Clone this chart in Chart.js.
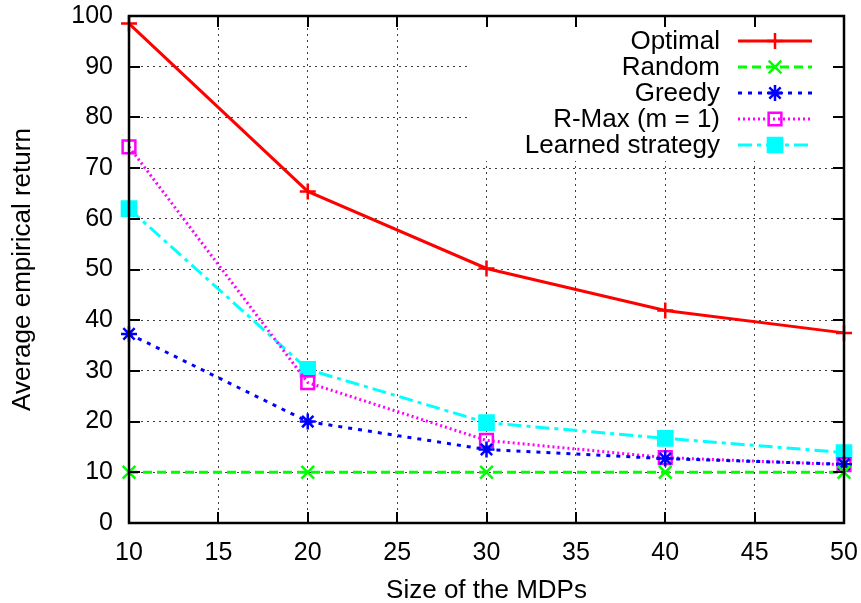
<!DOCTYPE html>
<html>
<head>
<meta charset="utf-8">
<script src="https://cdn.jsdelivr.net/npm/chart.js@4/dist/chart.umd.min.js"></script>
<style>
  html, body { margin: 0; padding: 0; background: #fff; }
  #wrap { width: 861px; height: 603px; }
</style>
</head>
<body>
<div id="wrap"><canvas id="chart" width="861" height="603"></canvas></div>
<script>
const sizes = [10, 20, 30, 40, 50];
const optimal = [98.5, 65.4, 50.2, 41.9, 37.5];
const random = [10.0, 10.0, 10.0, 10.0, 10.0];
const greedy = [37.3, 20.0, 14.5, 12.7, 11.6];
const rmax = [74.2, 27.7, 16.3, 12.9, 11.5];
const learned = [62.0, 30.3, 19.8, 16.7, 13.9];

const FONT = 'Liberation Sans, Arial, Helvetica, sans-serif';
const FSIZE = 25;
const TSIZE = 26;

function pts(vals) {
    return sizes.map((s, i) => ({ x: s, y: vals[i] }));
}

function series(label, vals, color, dash, style, radius, fill) {
    return {
        label: label,
        data: pts(vals),
        borderColor: color,
        backgroundColor: fill,
        borderWidth: 3,
        borderDash: dash,
        pointStyle: style,
        pointRadius: radius,
        pointBorderWidth: 2.5,
        pointBorderColor: color,
        pointBackgroundColor: fill,
        tension: 0,
        clip: false
    };
}

const datasets = [
    series('Optimal', optimal, '#ff0000', [], 'cross', 8, '#ff0000'),
    series('Random', random, '#00ff00', [9, 5], 'crossRot', 9, '#00ff00'),
    series('Greedy', greedy, '#0000ff', [4, 6], 'star', 8, '#0000ff'),
    series('R-Max (m = 1)', rmax, '#ff00ff', [2, 3], 'rect', 9, 'rgba(255,255,255,0)'),
    series('Learned strategy', learned, '#00ffff', [14, 5, 4, 5], 'rect', 10, '#00ffff')
];

// white box behind the key, hides the grid there
const LEGEND_BOX = { left: 470, bottom: 160 };

function marker(ctx, ds, x, y) {
    const r = ds.pointRadius;
    ctx.save();
    ctx.setLineDash([]);
    ctx.lineWidth = ds.pointBorderWidth;
    ctx.strokeStyle = ds.pointBorderColor;
    ctx.fillStyle = ds.pointBackgroundColor;
    ctx.beginPath();
    if (ds.pointStyle === 'cross') {
        ctx.moveTo(x - r, y); ctx.lineTo(x + r, y);
        ctx.moveTo(x, y - r); ctx.lineTo(x, y + r);
        ctx.stroke();
    } else if (ds.pointStyle === 'crossRot') {
        const o = r * Math.SQRT1_2;
        ctx.moveTo(x - o, y - o); ctx.lineTo(x + o, y + o);
        ctx.moveTo(x - o, y + o); ctx.lineTo(x + o, y - o);
        ctx.stroke();
    } else if (ds.pointStyle === 'star') {
        const o = r * Math.SQRT1_2;
        ctx.moveTo(x - r, y); ctx.lineTo(x + r, y);
        ctx.moveTo(x, y - r); ctx.lineTo(x, y + r);
        ctx.moveTo(x - o, y - o); ctx.lineTo(x + o, y + o);
        ctx.moveTo(x - o, y + o); ctx.lineTo(x + o, y - o);
        ctx.stroke();
    } else {
        const s = r * Math.SQRT1_2;
        ctx.rect(x - s, y - s, 2 * s, 2 * s);
        ctx.fill();
        ctx.stroke();
    }
    ctx.restore();
}

const gnuplotFrame = {
    id: 'gnuplotFrame',
    beforeDatasetsDraw(chart) {
        const ctx = chart.ctx, a = chart.chartArea;
        ctx.save();
        ctx.fillStyle = '#fff';
        ctx.fillRect(LEGEND_BOX.left, a.top + 1, a.right - LEGEND_BOX.left - 1, LEGEND_BOX.bottom - a.top);
        ctx.restore();
    },
    afterDraw(chart) {
        const ctx = chart.ctx, a = chart.chartArea;
        const xs = chart.scales.x, ys = chart.scales.y;
        const tl = 11;
        ctx.save();
        ctx.strokeStyle = '#000';
        ctx.lineWidth = 2;
        ctx.setLineDash([]);
        ctx.beginPath();
        xs.ticks.forEach(t => {
            const px = Math.round(xs.getPixelForValue(t.value));
            ctx.moveTo(px, a.bottom); ctx.lineTo(px, a.bottom - tl);
            ctx.moveTo(px, a.top); ctx.lineTo(px, a.top + tl);
        });
        ys.ticks.forEach(t => {
            const py = Math.round(ys.getPixelForValue(t.value));
            ctx.moveTo(a.left, py); ctx.lineTo(a.left + tl, py);
            ctx.moveTo(a.right, py); ctx.lineTo(a.right - tl, py);
        });
        ctx.stroke();
        ctx.lineWidth = 2.5;
        ctx.strokeRect(a.left, a.top, a.right - a.left, a.bottom - a.top);

        // key, gnuplot style: text right aligned, sample on the right
        ctx.font = TSIZE + 'px ' + FONT;
        ctx.textAlign = 'right';
        ctx.textBaseline = 'middle';
        chart.data.datasets.forEach((ds, i) => {
            const y = 41 + i * 26;
            ctx.fillStyle = '#000';
            ctx.fillText(ds.label, 720, y + 1);
            ctx.save();
            ctx.strokeStyle = ds.borderColor;
            ctx.lineWidth = ds.borderWidth;
            ctx.setLineDash(ds.borderDash);
            ctx.beginPath();
            ctx.moveTo(738, y); ctx.lineTo(812, y);
            ctx.stroke();
            ctx.restore();
            marker(ctx, ds, 775, y);
        });
        ctx.restore();
    }
};

function noPad(s) {
    s.paddingTop = 0;
    s.paddingBottom = 0;
    s.paddingLeft = 0;
    s.paddingRight = 0;
}

const config = {
    type: 'line',
    data: { datasets: datasets },
    options: {
        responsive: false,
        animation: false,
        layout: { padding: { left: 0, top: 16, right: 17, bottom: 0 } },
        plugins: {
            legend: { display: false },
            tooltip: { enabled: false }
        },
        scales: {
            x: {
                type: 'linear',
                min: 10,
                max: 50,
                afterFit: s => { s.height = 80; noPad(s); },
                ticks: { stepSize: 5, color: '#000', font: { family: FONT, size: FSIZE }, padding: 15 },
                grid: { color: 'rgba(0,0,0,0.75)', lineWidth: 1, drawTicks: false },
                border: { display: false, dash: [2, 4] },
                title: { display: true, text: 'Size of the MDPs', color: '#000', font: { family: FONT, size: TSIZE }, padding: { top: 0, bottom: -3 } }
            },
            y: {
                min: 0,
                max: 100,
                afterFit: s => { s.width = 129; noPad(s); },
                ticks: { stepSize: 10, color: '#000', font: { family: FONT, size: FSIZE }, padding: 16 },
                grid: { color: 'rgba(0,0,0,0.75)', lineWidth: 1, drawTicks: false },
                border: { display: false, dash: [2, 4] },
                title: { display: true, text: 'Average empirical return', color: '#000', font: { family: FONT, size: TSIZE }, padding: { top: 7, bottom: 0 } }
            }
        }
    },
    plugins: [gnuplotFrame]
};

var chart = new Chart(document.getElementById('chart'), config);
</script>
</body>
</html>
